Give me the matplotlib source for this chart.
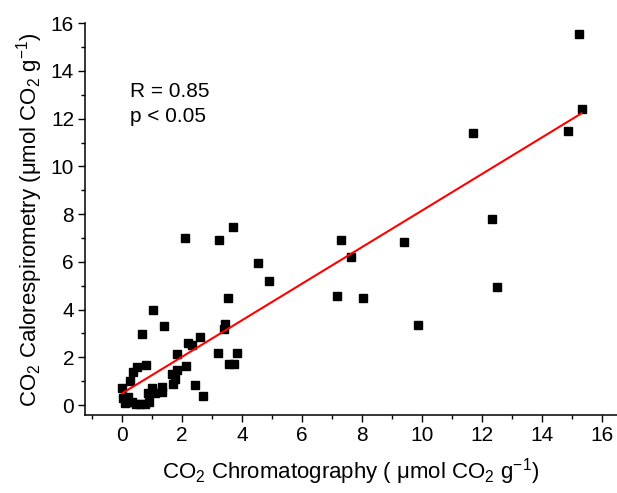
import numpy as np
import matplotlib
matplotlib.use("Agg")
import matplotlib.pyplot as plt
from matplotlib.ticker import MultipleLocator

plt.rcParams.update({
    "font.family": ["Liberation Sans", "DejaVu Sans"],
    "mathtext.fontset": "custom",
    "mathtext.rm": "Liberation Sans",
    "mathtext.it": "Liberation Sans:italic",
    "mathtext.default": "regular",
    "font.size": 14,
})

# CO2 by chromatography (x) vs calorespirometry (y), µmol CO2 g-1
chrom = [15.24, 15.32, 14.86, 11.69, 12.33, 12.50, 9.87, 9.40, 8.03, 7.17, 7.30, 7.62,
         4.90, 4.52, 3.69, 3.23, 2.10, 3.52, 3.44, 3.41, 2.60, 2.21, 2.32, 3.19,
         3.83, 3.58, 3.73, 2.12, 2.43, 2.71, 1.84, 1.82, 1.66, 1.77, 1.71,
         1.04, 1.41, 0.68, 0.79, 0.49, 0.38, 0.27, 0.00, 0.04, 0.10, 0.32,
         0.60, 0.91, 0.88, 0.99, 1.32, 1.32, 1.10, 0.21, 0.45, 0.75, 0.15]
calor = [15.56, 12.41, 11.50, 11.39, 7.78, 4.95, 3.34, 6.85, 4.48, 4.55, 6.90, 6.21,
         5.21, 5.94, 7.45, 6.92, 7.02, 4.47, 3.38, 3.20, 2.84, 2.59, 2.52, 2.19,
         2.17, 1.71, 1.74, 1.65, 0.86, 0.36, 2.14, 1.47, 1.30, 1.08, 0.90,
         3.98, 3.31, 2.98, 1.68, 1.61, 1.40, 1.00, 0.70, 0.28, 0.07, 0.14,
         0.04, 0.11, 0.49, 0.70, 0.77, 0.56, 0.49, 0.35, 0.05, 0.05, 0.15]

# linear fit
fit_slope = 0.766
fit_intercept = 0.49
stats_text = "R = 0.85\np < 0.05"

fig = plt.figure(figsize=(6.17, 4.93), dpi=100)
ax = fig.add_axes([0.138, 0.158, 0.862, 0.795])

ax.plot(chrom, calor, "s", color="black", markersize=6.3, zorder=3)
xf = np.array([min(chrom), max(chrom)])
ax.plot(xf, fit_intercept + fit_slope * xf, color="red", lw=1.5, zorder=4)

ax.set_xlim(-1.23, 16.5)
ax.set_ylim(-0.42, 16.0)
ax.xaxis.set_major_locator(MultipleLocator(2))
ax.xaxis.set_minor_locator(MultipleLocator(1))
ax.yaxis.set_major_locator(MultipleLocator(2))
ax.yaxis.set_minor_locator(MultipleLocator(1))
ax.tick_params(which="major", direction="out", length=5, width=1, labelsize=15, pad=3)
ax.tick_params(which="minor", direction="out", length=3, width=1)
for s in ["top", "right"]:
    ax.spines[s].set_visible(False)
for s in ["left", "bottom"]:
    ax.spines[s].set_linewidth(1.1)

ax.set_xlabel(r"CO$_2$ Chromatography ( $\mu$mol CO$_2$ g$^{-1}$)", fontsize=16, labelpad=8)
ax.set_ylabel(r"CO$_2$ Calorespirometry ($\mu$mol CO$_2$ g$^{-1}$)", fontsize=16, labelpad=4)

ax.text(0.085, 0.795, stats_text, transform=ax.transAxes, fontsize=15,
        va="center", ha="left", linespacing=1.4)

fig.savefig("out.png", dpi=100)
